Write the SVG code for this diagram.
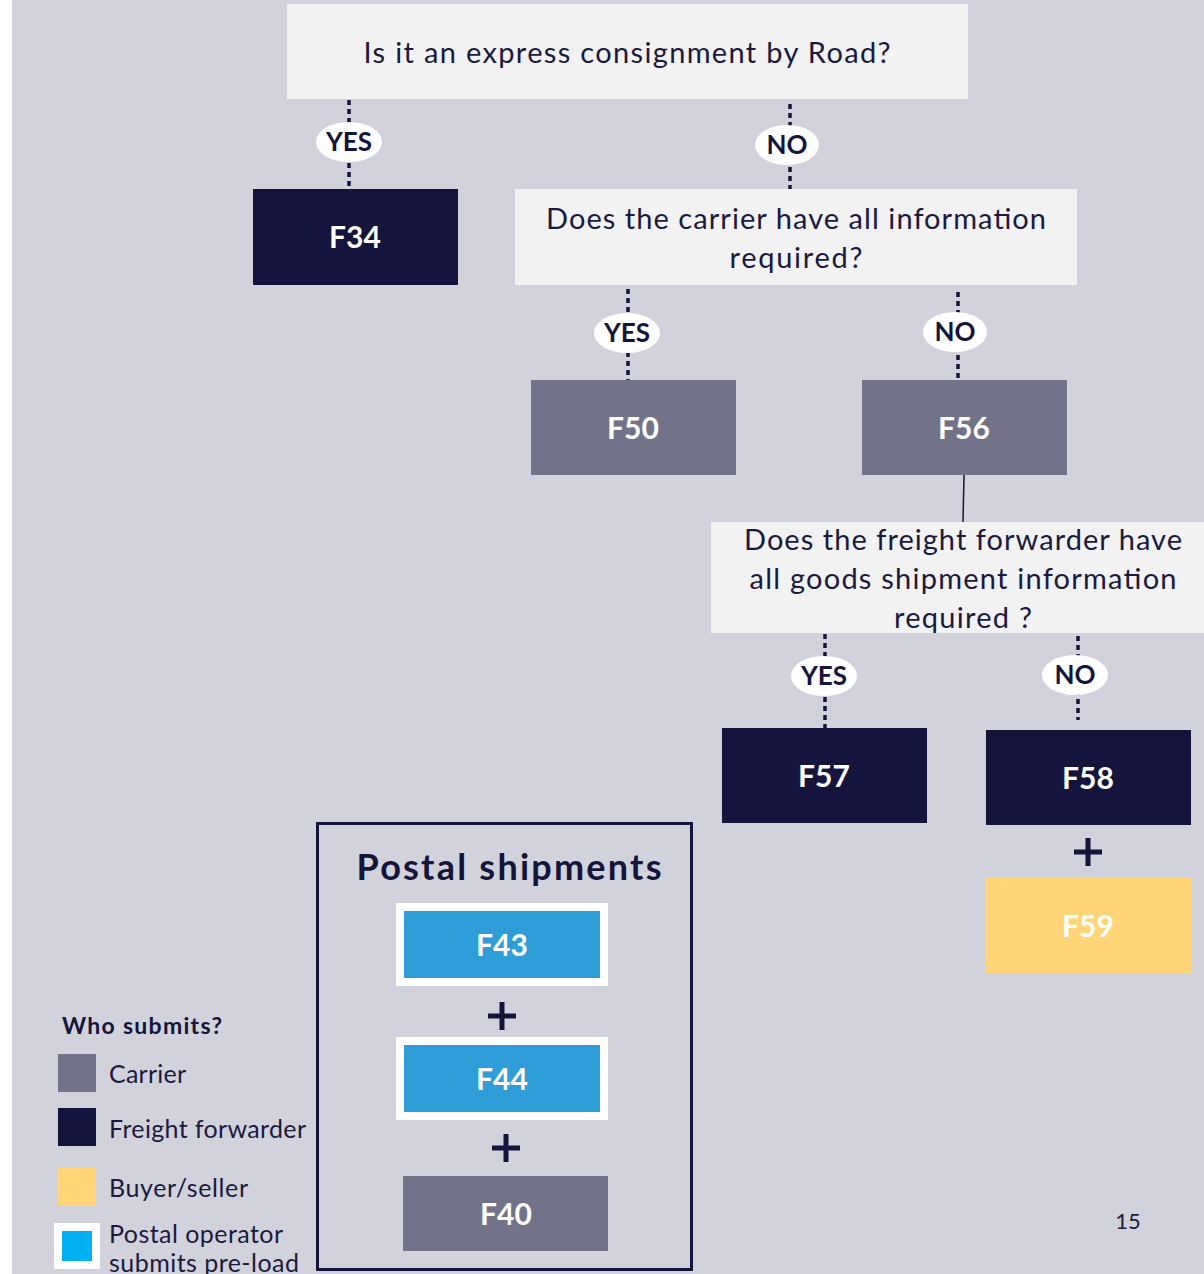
<svg xmlns="http://www.w3.org/2000/svg" width="1204" height="1274" viewBox="0 0 1204 1274">
<style>
.q{fill:#f2f2f2}
.qt{font-family:"Lato","Liberation Sans",sans-serif;font-size:29px;fill:#1a1a40;text-anchor:middle}
.ff{fill:#14143c}
.ca{fill:#727289}
.by{fill:#ffd578}
.bl{fill:#2e9dd8}
.lab{font-family:"Lato","Liberation Sans",sans-serif;font-weight:bold;font-size:30px;fill:#ffffff;text-anchor:middle}
.yn{font-family:"Lato","Liberation Sans",sans-serif;font-weight:bold;font-size:26px;fill:#14143c;text-anchor:middle}
.dot{stroke:#14143c;stroke-width:3.5;stroke-dasharray:5,4;fill:none}
.pill{fill:#ffffff}
.plus{stroke:#14143c;stroke-width:5;fill:none}
.leg{font-family:"Lato","Liberation Sans",sans-serif;font-size:25px;fill:#1a1a40}
</style>
<rect x="0" y="0" width="1204" height="1274" fill="#ffffff"/>
<rect x="12" y="0" width="1192" height="1274" fill="#d1d2db"/>

<g id="connectors">
<line class="dot" x1="349" y1="100" x2="349" y2="189"/>
<line class="dot" x1="790" y1="104" x2="790" y2="189"/>
<line class="dot" x1="628" y1="289" x2="628" y2="380"/>
<line class="dot" x1="958" y1="292" x2="958" y2="378"/>
<line x1="964" y1="475" x2="963" y2="522" stroke="#14143c" stroke-width="1.5"/>
<line class="dot" x1="825" y1="634" x2="825" y2="728"/>
<line class="dot" x1="1078" y1="636" x2="1078" y2="720"/>
<ellipse class="pill" cx="349" cy="142" rx="33" ry="20"/>
<text class="yn" x="349" y="151">YES</text>
<ellipse class="pill" cx="787" cy="145" rx="32" ry="20"/>
<text class="yn" x="787" y="154">NO</text>
<ellipse class="pill" cx="627" cy="333" rx="33" ry="20"/>
<text class="yn" x="627" y="342">YES</text>
<ellipse class="pill" cx="955" cy="332" rx="32" ry="20"/>
<text class="yn" x="955" y="341">NO</text>
<ellipse class="pill" cx="824" cy="676" rx="33" ry="20"/>
<text class="yn" x="824" y="685">YES</text>
<ellipse class="pill" cx="1075" cy="675" rx="33" ry="20"/>
<text class="yn" x="1075" y="684">NO</text>
<path class="plus" d="M1074 852 H1102 M1088 838 V866"/>
<path class="plus" d="M488 1016 H516 M502 1002 V1030"/>
<path class="plus" d="M492 1148 H520 M506 1134 V1162"/>
</g>

<g id="q1">
<rect class="q" x="287" y="4" width="681" height="95"/>
<text class="qt" x="627" y="63" textLength="527">Is it an express consignment by Road?</text>
</g>
<g id="f34">
<rect class="ff" x="253" y="189" width="205" height="96"/>
<text class="lab" x="355" y="248">F34</text>
</g>
<g id="q2">
<rect class="q" x="515" y="189" width="562" height="96"/>
<text class="qt" x="796" y="229" textLength="500">Does the carrier have all information</text>
<text class="qt" x="796" y="268" textLength="133">required?</text>
</g>
<g id="f50">
<rect class="ca" x="531" y="380" width="205" height="95"/>
<text class="lab" x="633" y="439">F50</text>
</g>
<g id="f56">
<rect class="ca" x="862" y="380" width="205" height="95"/>
<text class="lab" x="964" y="439">F56</text>
</g>
<g id="q3">
<rect class="q" x="711" y="522" width="493" height="111"/>
<text class="qt" x="963" y="550" textLength="438">Does the freight forwarder have</text>
<text class="qt" x="963" y="589" textLength="427">all goods shipment information</text>
<text class="qt" x="963" y="628" textLength="138">required ?</text>
</g>
<g id="f57">
<rect class="ff" x="722" y="728" width="205" height="95"/>
<text class="lab" x="824" y="787">F57</text>
</g>
<g id="f58">
<rect class="ff" x="986" y="730" width="205" height="95"/>
<text class="lab" x="1088" y="789">F58</text>
</g>
<g id="f59">
<rect class="by" x="986" y="878" width="205" height="95"/>
<text class="lab" x="1088" y="937">F59</text>
</g>

<g id="postal">
<rect x="317.5" y="823.5" width="374" height="446" fill="none" stroke="#14143c" stroke-width="3"/>
<text x="509" y="880" font-family="Lato,'Liberation Sans',sans-serif" font-weight="bold" font-size="36" fill="#14143c" text-anchor="middle" textLength="305">Postal shipments</text>
</g>
<g id="f43">
<rect x="396" y="903" width="212" height="83" fill="#ffffff"/>
<rect class="bl" x="404" y="911" width="196" height="67"/>
<text class="lab" x="502" y="956">F43</text>
</g>
<g id="f44">
<rect x="396" y="1037" width="212" height="83" fill="#ffffff"/>
<rect class="bl" x="404" y="1045" width="196" height="67"/>
<text class="lab" x="502" y="1090">F44</text>
</g>
<g id="f40">
<rect class="ca" x="403" y="1176" width="205" height="75"/>
<text class="lab" x="506" y="1225">F40</text>
</g>

<g id="legend">
<text x="62" y="1034" font-family="Lato,'Liberation Sans',sans-serif" font-weight="bold" font-size="23" fill="#14143c" textLength="160">Who submits?</text>
<rect class="ca" x="58" y="1054" width="38" height="38"/>
<text class="leg" x="109" y="1083" textLength="77">Carrier</text>
<rect class="ff" x="58" y="1108" width="38" height="38"/>
<text class="leg" x="109" y="1138" textLength="197">Freight forwarder</text>
<rect class="by" x="58" y="1168" width="38" height="38"/>
<text class="leg" x="109" y="1197" textLength="139">Buyer/seller</text>
<rect x="54" y="1223" width="46" height="46" fill="#ffffff"/>
<rect x="62" y="1231" width="30" height="30" fill="#00b0f0"/>
<text class="leg" x="109" y="1243" textLength="174">Postal operator</text>
<text class="leg" x="109" y="1272" textLength="190">submits pre-load</text>
</g>

<text x="1128" y="1229" font-family="Lato,'Liberation Sans',sans-serif" font-size="22" fill="#1a1a40" text-anchor="middle">15</text>
</svg>
